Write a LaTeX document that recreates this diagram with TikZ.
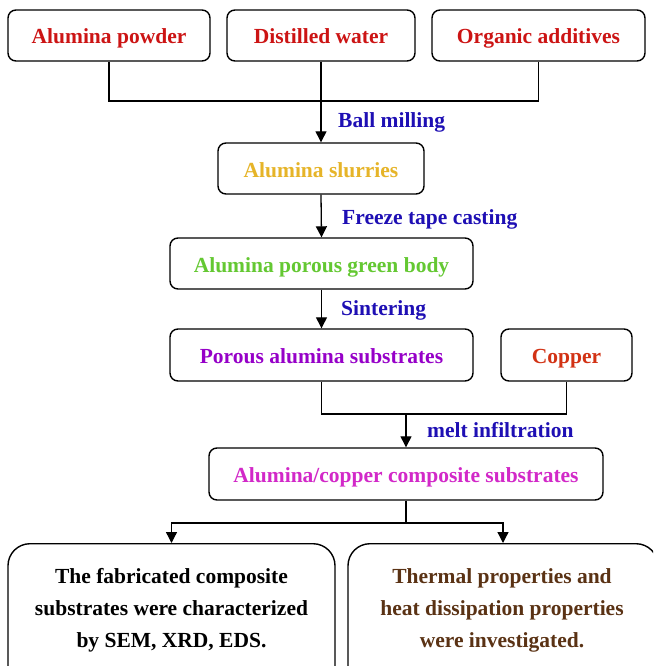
\documentclass[tikz,border=0pt]{standalone}
\usepackage{fontspec}
\setmainfont{Liberation Serif}
\usetikzlibrary{arrows.meta}
\definecolor{cred}{RGB}{204,20,20}
\definecolor{cgold}{RGB}{230,180,40}
\definecolor{cgreen}{RGB}{100,200,50}
\definecolor{cpurple}{RGB}{150,0,200}
\definecolor{ccopper}{RGB}{210,50,20}
\definecolor{cmag}{RGB}{210,40,200}
\definecolor{cblue}{RGB}{30,15,180}
\definecolor{cbrown}{RGB}{90,50,20}
\tikzset{
  box/.style={draw=black, line width=1.4pt, rounded corners=8pt, align=center, inner sep=0pt,
    text height=17pt, text depth=0pt,
    font=\fontsize{21.5}{25}\selectfont\bfseries},
  bigbox/.style={draw=black, line width=1.4pt, rounded corners=22pt, align=center, inner sep=0pt,
    font=\fontsize{21.5}{32}\selectfont\bfseries},
  lab/.style={anchor=west, text=cblue, inner sep=0pt, text height=17pt, text depth=0pt,
    font=\fontsize{21.5}{25}\selectfont\bfseries},
  conn/.style={line width=1.3pt},
  arr/.style={line width=1.3pt, -{Triangle[length=11pt,width=11pt]}}
}
\begin{document}
\begin{tikzpicture}[x=1pt,y=-1pt]
\clip (0,0) rectangle (653,666);
\fill[white] (0,0) rectangle (653,666);
% top boxes
\node[box, minimum width=202pt, minimum height=51pt, text=cred] (ap) at (109,35.5) {Alumina powder};
\node[box, minimum width=188pt, minimum height=51pt, text=cred] (dw) at (321,35.5) {Distilled water};
\node[box, minimum width=213pt, minimum height=51pt, text=cred] (oa) at (538.5,35.5) {Organic additives};
\coordinate (m1) at (321,101);
\draw[conn] (ap.south) -- (ap.south |- m1) -- (oa.south |- m1) -- (oa.south);
% slurries
\node[box, minimum width=206pt, minimum height=51pt, text=cgold] (sl) at (321,168.5) {Alumina slurries};
\draw[arr] (dw.south) -- (sl.north);
\node[lab] (l1) at (338,119) {Ball milling};
% green body
\node[box, minimum width=303pt, minimum height=51pt, text=cgreen] (gb) at (321.5,263.5) {Alumina porous green body};
\draw[arr] (sl.south) -- (gb.north);
\node[lab] (l2) at (342,216) {Freeze tape casting};
% porous substrates
\node[box, minimum width=303pt, minimum height=52pt, text=cpurple] (ps) at (321.5,355) {Porous alumina substrates};
\draw[arr] (gb.south) -- (ps.north);
\node[lab] (l3) at (341,307) {Sintering};
% copper
\node[box, minimum width=131pt, minimum height=52pt, text=ccopper] (cu) at (566.5,355) {Copper};
\coordinate (m2) at (406,414);
\draw[conn] (ps.south) -- (ps.south |- m2) -- (cu.south |- m2) -- (cu.south);
% composite
\node[box, minimum width=394pt, minimum height=52pt, text=cmag] (cs) at (406,474) {Alumina/copper composite substrates};
\draw[arr] (m2) -- (cs.north);
\node[lab] (l4) at (427,429) {melt infiltration};
% bottom boxes
\node[bigbox, minimum width=327pt, minimum height=150pt, text=black, anchor=north] (fc) at (171.5,543)
  {};
\node[bigbox, minimum width=310pt, minimum height=150pt, text=cbrown, anchor=north] (tp) at (503,543)
  {};
\node[align=center, inner sep=0pt, font=\fontsize{21.5}{32}\selectfont\bfseries] (fct) at (171.5,610)
  {The fabricated composite\\substrates were characterized\\by SEM, XRD, EDS.};
\node[align=center, inner sep=0pt, text=cbrown, font=\fontsize{21.5}{32}\selectfont\bfseries] (tpt) at (502,610)
  {Thermal properties and\\heat dissipation properties\\were investigated.};
\coordinate (m3) at (406,523);
\draw[conn] (cs.south) -- (m3);
\draw[arr] (m3) -| (fc.north);
\draw[arr] (m3) -| (tp.north);
\end{tikzpicture}
\end{document}
